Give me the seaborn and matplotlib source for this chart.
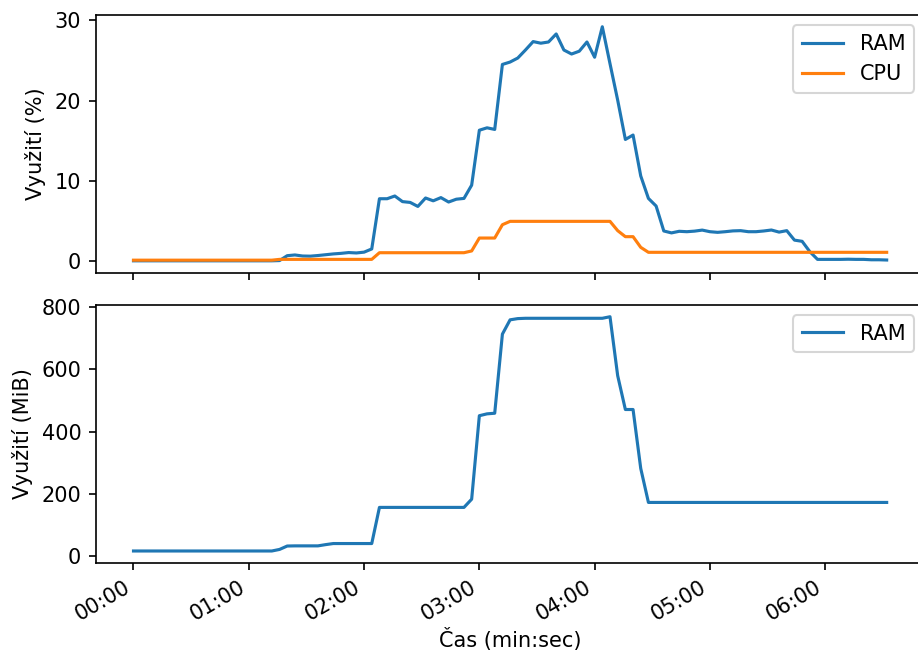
import matplotlib
matplotlib.use('Agg')
import matplotlib.pyplot as plt
import matplotlib.dates as mdates
import seaborn as sns
import pandas as pd

seconds = [0, 4, 8, 12, 16, 20, 24, 28, 32, 36, 40, 44, 48, 52, 56, 60, 64, 68, 72, 76,
           80, 84, 88, 92, 96, 100, 104, 108, 112, 116, 120, 124, 128, 132, 136, 140, 144, 148, 152, 156,
           160, 164, 168, 172, 176, 180, 184, 188, 192, 196, 200, 204, 208, 212, 216, 220, 224, 228, 232, 236,
           240, 244, 248, 252, 256, 260, 264, 268, 272, 276, 280, 284, 288, 292, 296, 300, 304, 308, 312, 316,
           320, 324, 328, 332, 336, 340, 344, 348, 352, 356, 360, 364, 368, 372, 376, 380, 384, 388, 392]

ram_pct = [0.02, 0.02, 0.02, 0.02, 0.02, 0.02, 0.02, 0.02, 0.02, 0.02, 0.02, 0.02, 0.02, 0.02, 0.02, 0.02, 0.02, 0.02, 0.02, 0.05,
           0.66, 0.75, 0.62, 0.6, 0.68, 0.78, 0.88, 0.95, 1.05, 1.0, 1.1, 1.5, 7.76, 7.76, 8.1, 7.4, 7.3, 6.8, 7.85, 7.5,
           7.9, 7.35, 7.7, 7.8, 9.45, 16.3, 16.6, 16.4, 24.5, 24.8, 25.3, 26.3, 27.35, 27.15, 27.3, 28.3, 26.3, 25.8, 26.15, 27.3,
           25.4, 29.2, 24.6, 20.05, 15.15, 15.7, 10.6, 7.8, 6.85, 3.74, 3.5, 3.7, 3.65, 3.72, 3.85, 3.65, 3.57, 3.65, 3.75, 3.78,
           3.65, 3.65, 3.74, 3.86, 3.6, 3.78, 2.6, 2.45, 1.16, 0.2, 0.2, 0.2, 0.2, 0.22, 0.2, 0.2, 0.15, 0.15, 0.12]

cpu_pct = [0.1, 0.1, 0.1, 0.1, 0.1, 0.1, 0.1, 0.1, 0.1, 0.1, 0.1, 0.1, 0.1, 0.1, 0.1, 0.1, 0.1, 0.1, 0.1, 0.2,
           0.2, 0.2, 0.2, 0.2, 0.2, 0.2, 0.2, 0.2, 0.2, 0.2, 0.2, 0.2, 1.03, 1.03, 1.03, 1.03, 1.03, 1.03, 1.03, 1.03,
           1.03, 1.03, 1.03, 1.03, 1.25, 2.86, 2.86, 2.86, 4.52, 4.94, 4.94, 4.94, 4.94, 4.94, 4.94, 4.94, 4.94, 4.94, 4.94, 4.94,
           4.94, 4.94, 4.94, 3.78, 3.03, 3.03, 1.7, 1.08, 1.08, 1.08, 1.08, 1.08, 1.08, 1.08, 1.08, 1.08, 1.08, 1.08, 1.08, 1.08,
           1.08, 1.08, 1.08, 1.08, 1.08, 1.08, 1.08, 1.08, 1.08, 1.08, 1.08, 1.08, 1.08, 1.08, 1.08, 1.08, 1.08, 1.08, 1.08]

ram_mib = [15, 15, 15, 15, 15, 15, 15, 15, 15, 15, 15, 15, 15, 15, 15, 15, 15, 15, 15, 20,
           31, 31.5, 31.5, 31.5, 31.5, 35.5, 39, 39, 39, 39, 39, 39, 155.5, 155.5, 155.5, 155.5, 155.5, 155.5, 155.5, 155.5,
           155.5, 155.5, 155.5, 155.5, 182, 451, 457, 459, 714, 760, 764, 765, 765, 765, 765, 765, 765, 765, 765, 765,
           765, 765, 770, 580, 471, 471, 281, 171.5, 171.5, 171.5, 171.5, 171.5, 171.5, 171.5, 171.5, 171.5, 171.5, 171.5, 171.5, 171.5,
           171.5, 171.5, 171.5, 171.5, 171.5, 171.5, 171.5, 171.5, 171.5, 171.5, 171.5, 171.5, 171.5, 171.5, 171.5, 171.5, 171.5, 171.5, 171.5]

times = pd.to_datetime(seconds, unit='s')

fig, (ax1, ax2) = plt.subplots(2, 1, sharex=True, figsize=(6.12, 4.36), dpi=150)

sns.lineplot(x=times, y=ram_pct, ax=ax1, label='RAM', color='#1f77b4')
sns.lineplot(x=times, y=cpu_pct, ax=ax1, label='CPU', color='#ff7f0e')
sns.lineplot(x=times, y=ram_mib, ax=ax2, label='RAM', color='#1f77b4')

ax1.set_ylabel('Využití (%)')
ax2.set_ylabel('Využití (MiB)')
ax1.set_xlabel('')
ax2.set_xlabel('Čas (min:sec)', labelpad=1.5)

ax2.xaxis.set_major_locator(mdates.MinuteLocator())
ax2.xaxis.set_major_formatter(mdates.DateFormatter('%M:%S'))

ax1.legend(loc='upper right')
ax2.legend(loc='upper right')

fig.autofmt_xdate()

ax1.set_position([0.1044, 0.5833, 0.9025, 0.3937])
ax2.set_position([0.1044, 0.1396, 0.9025, 0.3940])

fig.savefig('out.png', dpi=150)
